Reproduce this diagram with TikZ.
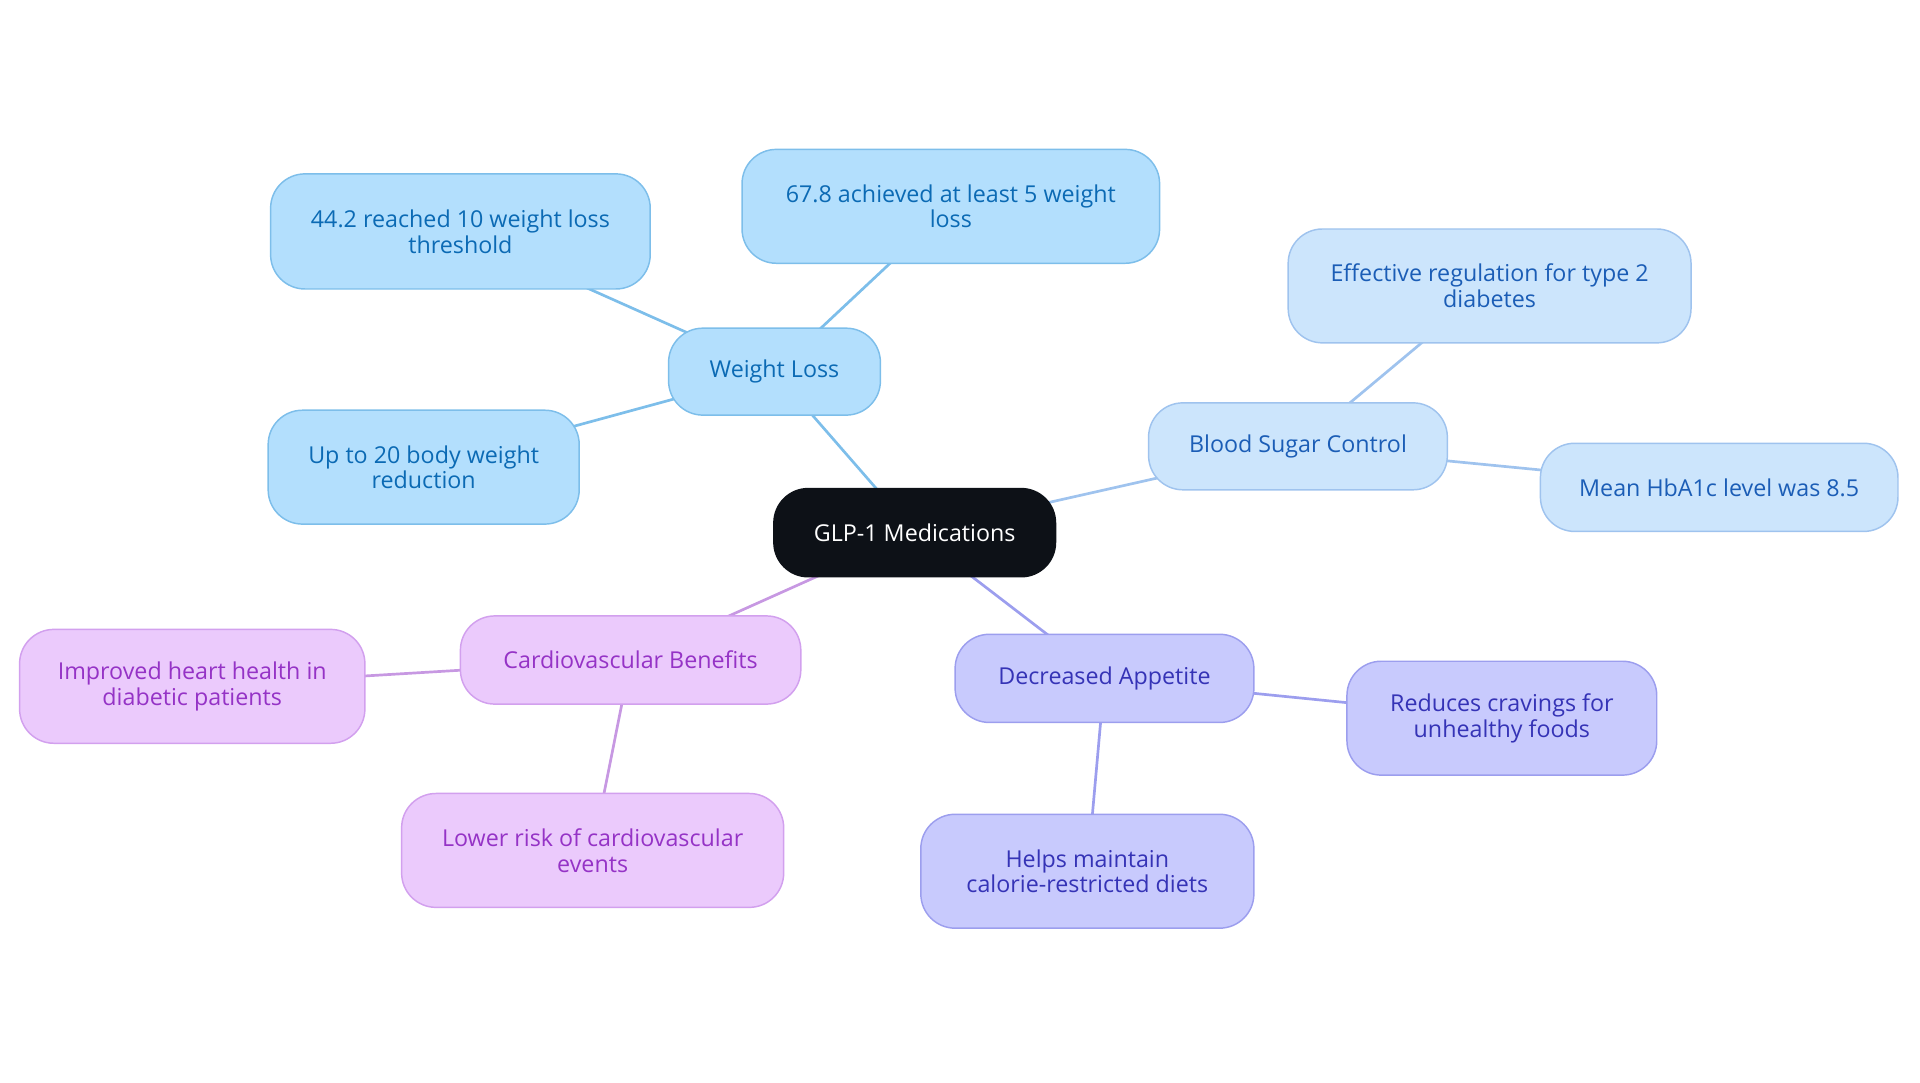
\documentclass[tikz,border=0pt]{standalone}
\usepackage{fontspec}
\setmainfont{Open Sans}
\usetikzlibrary{calc,positioning,backgrounds}

\definecolor{rootfill}{HTML}{0D1117}
\definecolor{wlfill}{HTML}{B3DFFD}
\definecolor{wldraw}{HTML}{7DBEEA}
\definecolor{wltext}{HTML}{0B6AB4}
\definecolor{bsfill}{HTML}{CCE5FC}
\definecolor{bsdraw}{HTML}{9FC3EE}
\definecolor{bstext}{HTML}{1B5DB6}
\definecolor{cvfill}{HTML}{EBCAFC}
\definecolor{cvdraw}{HTML}{D2A0EE}
\definecolor{cvtext}{HTML}{9533C6}
\definecolor{dafill}{HTML}{C8CAFD}
\definecolor{dadraw}{HTML}{9C9EEE}
\definecolor{datext}{HTML}{3533B6}

\begin{document}
\begin{tikzpicture}[x=1pt,y=-1pt,
    box/.style={rounded corners=28pt, line width=1.2pt, align=center,
        inner sep=0pt, font=\fontsize{19}{21}\selectfont},
    rootbox/.style={box, fill=rootfill, draw=rootfill, text=white},
    wlbox/.style={box, fill=wlfill, draw=wldraw, text=wltext},
    bsbox/.style={box, fill=bsfill, draw=bsdraw, text=bstext},
    cvbox/.style={box, fill=cvfill, draw=cvdraw, text=cvtext},
    dabox/.style={box, fill=dafill, draw=dadraw, text=datext},
    wlline/.style={draw=wldraw, line width=2.2pt},
    bsline/.style={draw=bsdraw, line width=2.2pt},
    cvline/.style={draw=cvdraw!95!black, line width=2.2pt},
    daline/.style={draw=dadraw, line width=2.2pt}]
    \useasboundingbox (0,0) rectangle (1568,884);

    % Root
    \node[rootbox, minimum width=230pt, minimum height=72pt] (root) at (747,435) {GLP-1 Medications};

    % Weight loss branch
    \node[wlbox, minimum width=173pt, minimum height=71pt] (wl) at (632.5,303.5) {Weight Loss};
    \node[wlbox, minimum width=310pt, minimum height=94pt] (wl1) at (376,189) {44.2 reached 10 weight loss\\threshold};
    \node[wlbox, minimum width=341pt, minimum height=93pt] (wl2) at (776.5,168.5) {67.8 achieved at least 5 weight\\loss};
    \node[wlbox, minimum width=254pt, minimum height=93pt] (wl3) at (346,381.5) {Up to 20 body weight\\reduction};

    % Blood sugar branch
    \node[bsbox, minimum width=244pt, minimum height=71pt] (bs) at (1060,364.5) {Blood Sugar Control};
    \node[bsbox, minimum width=329pt, minimum height=93pt] (bs1) at (1216.5,233.5) {Effective regulation for type 2\\diabetes};
    \node[bsbox, minimum width=292pt, minimum height=72pt] (bs2) at (1404,398) {Mean HbA1c level was 8.5};

    % Cardiovascular branch
    \node[cvbox, minimum width=278pt, minimum height=72pt] (cv) at (515,539) {Cardiovascular Benefits};
    \node[cvbox, minimum width=282pt, minimum height=93pt] (cv1) at (157,560.5) {Improved heart health in\\diabetic patients};
    \node[cvbox, minimum width=312pt, minimum height=93pt] (cv2) at (484,694.5) {Lower risk of cardiovascular\\events};

    % Appetite branch
    \node[dabox, minimum width=244pt, minimum height=72pt] (da) at (902,554) {Decreased Appetite};
    \node[dabox, minimum width=253pt, minimum height=93pt] (da1) at (1226.5,586.5) {Reduces cravings for\\unhealthy foods};
    \node[dabox, minimum width=272pt, minimum height=93pt] (da2) at (888,711.5) {Helps maintain\\calorie-restricted diets};

    % Connectors (centre to centre, behind the boxes)
    \begin{scope}[on background layer]
    \foreach \a/\b/\s in {root/wl/wlline, wl/wl1/wlline, wl/wl2/wlline, wl/wl3/wlline,
        root/bs/bsline, bs/bs1/bsline, bs/bs2/bsline,
        root/cv/cvline, cv/cv1/cvline, cv/cv2/cvline,
        root/da/daline, da/da1/daline, da/da2/daline} {
        \draw[\s] (\a.center) -- (\b.center);
    }
    \end{scope}
\end{tikzpicture}
\end{document}
